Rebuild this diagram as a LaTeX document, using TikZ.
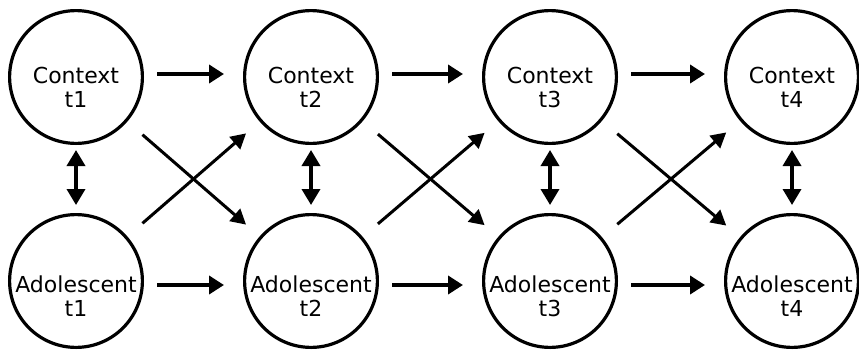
\documentclass[tikz,border=0pt]{standalone}
\usepackage{fontspec}
\setmainfont{DejaVu Sans}
\usetikzlibrary{arrows.meta}
\tikzset{
  ball/.style={circle, draw, line width=3.2pt, minimum size=132.8pt, inner sep=0pt},
  lbl/.style={anchor=base, align=center, inner sep=0pt,
              font=\fontsize{22}{24}\selectfont},
  flow/.style={line width=3.8pt, -{Triangle[length=15pt,width=18pt]}},
  cross/.style={line width=3pt, -{Triangle[length=15pt,width=16pt]}},
  mutual/.style={line width=3.5pt, {Triangle[length=16pt,width=18pt]}-{Triangle[length=16pt,width=18pt]}}
}
\begin{document}
\begin{tikzpicture}[x=1pt, y=-1pt]
  \useasboundingbox (0,0) rectangle (859,351);
  % circles: context row on top, adolescent row below
  \foreach \i/\x in {1/76, 2/311, 3/550, 4/792} {
    \node[ball] (c\i) at (\x,77) {};
    \node[ball] (a\i) at (\x,281) {};
    % the base anchor sits on the baseline of the last line
    \node[lbl] (ct\i) at (\x,107) {Context\\t\i};
    \node[lbl] (at\i) at (\x,316) {Adolescent\\t\i};
  }
  % links between time points
  \foreach \i/\j in {1/2, 2/3, 3/4} {
    \draw[flow, shorten <=13pt, shorten >=19pt] ([yshift=3pt]c\i.east) -- ([yshift=3pt]c\j.west);
    \draw[flow, shorten <=13pt, shorten >=19pt] ([yshift=-4pt]a\i.east) -- ([yshift=-4pt]a\j.west);
    \draw[cross, shorten <=20pt, shorten >=18pt] (c\i) -- (a\j);
    \draw[cross, shorten <=20pt, shorten >=18pt] (a\i) -- (c\j);
  }
  % reciprocal links within a time point
  \foreach \i in {1,2,3,4} {
    \draw[mutual, shorten <=5pt, shorten >=8pt] (c\i) -- (a\i);
  }
\end{tikzpicture}
\end{document}
